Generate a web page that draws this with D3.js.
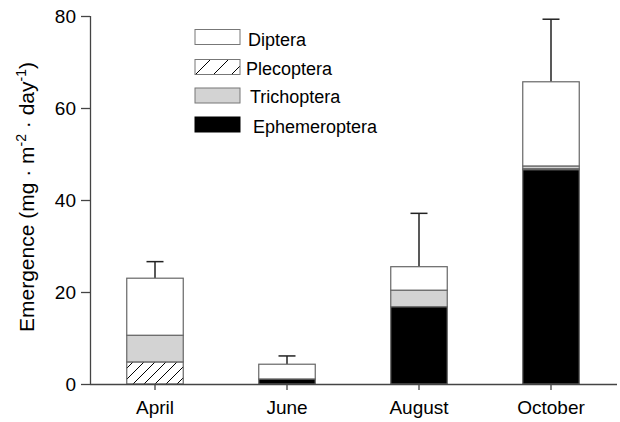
<!DOCTYPE html>
<html><head><meta charset="utf-8">
<script src="https://cdn.jsdelivr.net/npm/d3@7"></script>
<style>body{margin:0;background:#fff}svg{display:block;font-family:"Liberation Sans",Arial,sans-serif}</style>
</head><body><svg id="c" width="620" height="422"></svg>
<script>
const months = ["April", "June", "August", "October"];
const ephemeroptera = [0, 1.1, 16.8, 46.6];
const plecoptera = [4.8, 0, 0, 0.2];
const trichoptera = [5.8, 0, 3.6, 0.6];
const diptera = [12.4, 3.2, 5.1, 18.3];
const errors = [3.6, 1.8, 11.6, 13.6];
const yTicks = [0, 20, 40, 60, 80];
const seriesNames = ["Ephemeroptera", "Plecoptera", "Trichoptera", "Diptera"];
const legendOrder = ["Diptera", "Plecoptera", "Trichoptera", "Ephemeroptera"];

const svg = d3.select("#c");
const x = d3.scaleBand().domain(months).range([89, 617]).paddingInner(0.572).paddingOuter(0.286);
const y = d3.scaleLinear().domain([0, 80]).range([384, 16]);

const defs = svg.append("defs");
function hatch(id, size) {
  const p = defs.append("pattern").attr("id", id).attr("patternUnits", "userSpaceOnUse")
    .attr("width", size).attr("height", size);
  p.append("rect").attr("width", size).attr("height", size).attr("fill", "#fff");
  p.append("path").attr("d", `M0,${size} L${size},0 M${-size/2},${size/2} L${size/2},${-size/2} M${size/2},${size*1.5} L${size*1.5},${size/2}`)
    .attr("stroke", "#000").attr("stroke-width", 1);
}
hatch("hatchBar", 11);
hatch("hatchLeg", 18);

const fills = {Ephemeroptera: "#000", Plecoptera: "url(#hatchBar)", Trichoptera: "#d3d3d3", Diptera: "#fff"};
const legFills = {Ephemeroptera: "#000", Plecoptera: "url(#hatchLeg)", Trichoptera: "#d3d3d3", Diptera: "#fff"};

const rows = months.map((m, i) => ({month: m, Ephemeroptera: ephemeroptera[i], Plecoptera: plecoptera[i], Trichoptera: trichoptera[i], Diptera: diptera[i]}));
const stacked = d3.stack().keys(seriesNames)(rows);

const totals = rows.map(r => seriesNames.reduce((s, k) => s + r[k], 0));
const eb = svg.append("g").attr("stroke", "#222").attr("stroke-width", 1.5);
months.forEach((m, i) => {
  const cx = x(m) + x.bandwidth() / 2;
  eb.append("line").attr("x1", cx).attr("x2", cx).attr("y1", y(totals[i])).attr("y2", y(totals[i] + errors[i]));
  eb.append("line").attr("x1", cx - 8.5).attr("x2", cx + 8.5).attr("y1", y(totals[i] + errors[i])).attr("y2", y(totals[i] + errors[i]));
});

stacked.forEach(s => {
  svg.append("g").selectAll("rect").data(s.filter(d => d[1] - d[0] > 0)).join("rect")
    .attr("x", d => x(d.data.month))
    .attr("width", x.bandwidth())
    .attr("y", d => y(d[1]))
    .attr("height", d => y(d[0]) - y(d[1]))
    .attr("fill", fills[s.key])
    .attr("stroke", "#666").attr("stroke-width", 1.2);
});

const yAxis = svg.append("g").attr("transform", "translate(90,0)")
  .call(d3.axisLeft(y).tickValues(yTicks).tickSize(9).tickPadding(5));
const xAxis = svg.append("g").attr("transform", "translate(0,384)")
  .call(d3.axisBottom(x).tickSize(6).tickPadding(11));
[yAxis, xAxis].forEach(a => {
  a.select(".domain").attr("stroke", "#444").attr("stroke-width", 1.3);
  a.selectAll(".tick line").attr("stroke", "#444").attr("stroke-width", 1.3);
  a.selectAll("text").attr("font-size", 19).attr("fill", "#000").attr("font-family", "Liberation Sans, Arial, sans-serif");
});
xAxis.select(".domain").attr("d", "M90,0.5H617");
yAxis.select(".domain").attr("d", "M0.5,384V16");

const yt = svg.append("text").attr("transform", "translate(34,197) rotate(-90)")
  .attr("text-anchor", "middle").attr("font-size", 21).attr("fill", "#000");
yt.append("tspan").text("Emergence (mg · m");
yt.append("tspan").attr("dy", -8).attr("font-size", 14).text("-2");
yt.append("tspan").attr("dy", 8).text(" · day");
yt.append("tspan").attr("dy", -8).attr("font-size", 14).text("-1");
yt.append("tspan").attr("dy", 8).text(")");

const legY = [29.5, 59.5, 88, 117];
const legBase = [46, 75, 103, 133];
const legTx = [248, 246, 250, 253];
const lg = svg.append("g");
legendOrder.forEach((k, i) => {
  lg.append("rect").attr("x", 195).attr("y", legY[i]).attr("width", 45).attr("height", 15)
    .attr("fill", legFills[k]).attr("stroke", k === "Ephemeroptera" ? "#000" : "#777").attr("stroke-width", 1);
  lg.append("text").attr("x", legTx[i]).attr("y", legBase[i]).attr("font-size", 18).attr("fill", "#000").text(k);
});
</script></body></html>
